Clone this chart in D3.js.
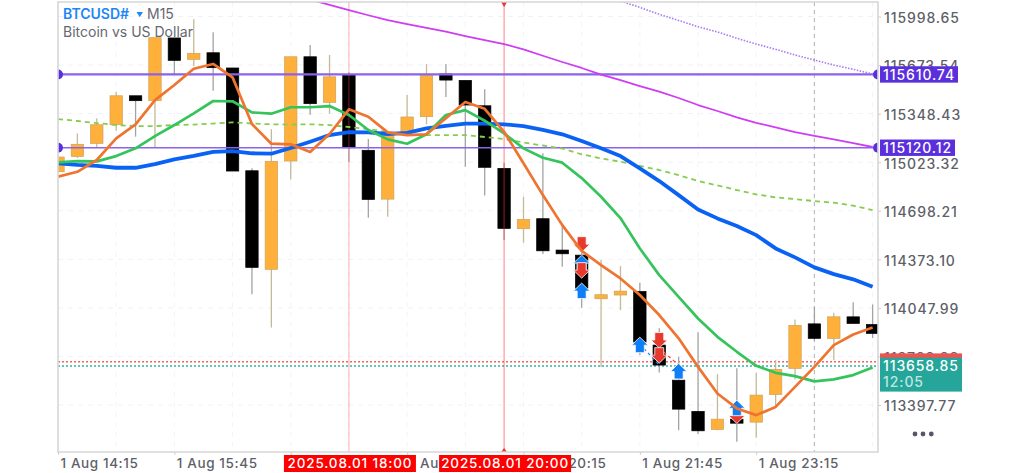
<!DOCTYPE html>
<html>
<head>
<meta charset="utf-8">
<script src="https://cdn.jsdelivr.net/npm/d3@7"></script>
<style>
html, body { margin: 0; padding: 0; background: #fff; overflow: hidden; }
text { font-family: Inter, Roboto, "Noto Sans", sans-serif; }
</style>
</head>
<body>
<svg id="chart" width="1024" height="473"></svg>
<script>
// BTCUSD# M15, one value per candle
const opens = [114959,115062,115149.5,115274,115468,115435,115855,115712,115756,115654,114966,114306,115031,115729,115424,115607,115103,114776,115219,115328,115614,115571,115401,114982,114578,114645,114435,114401,114109,114134,114158,113799,113564,113355,113234,113303,113283,113468,113643,113941,113844,113988,113937];
const highs = [115058,115216,115317,115495,115468,115857,115855,115980,115893,115654,114982,115243,115729,115808,115741,115625,115178,115219,115473,115680,115680,115571,115511,115020,114792,115083,114602,114435,114368,114328,114216,113911,113720,113884,113604,113643,113613,113698,113971,114055,114015,114085,114071];
const lows = [114959,115051,115120,115234,115194,115120,115607,115667,115502,114964,114140,113917,114908,115341,115348,115024,114651,114658,115205,115277,115460,114993,114801,114502,114484,114408,114323,114048,113653,114033,113732,113616,113229,113203,113229,113151,113178,113390,113569,113828,113698,113944,113846];
const closes = [115058,115143,115274,115468,115435,115857,115705,115752,115656,114964,114319,115029,115729,115415,115595,115120,114774,115219,115326,115612,115573,115406,114989,114580,114640,114430,114410,114180,114136,114160,113819,113665,113370,113225,113303,113276,113464,113636,113931,113844,113988,113944,113877];

// moving averages
const maFast = [114926,114959,115038,115183,115277,115439,115540,115649,115681,115591,115279,115147,115143,115091,115212,115377,115328,115223,115205,115210,115317,115426,115381,115227,115016,114803,114602,114430,114334,114245,114134,114000,113844,113653,113475,113375,113330,113385,113519,113653,113799,113870,113917];
const maMid = [115022,115031,115029,115064,115116,115198,115272,115350,115433,115431,115357,115348,115391,115391,115399,115339,115239,115176,115147,115210,115339,115372,115301,115216,115116,115053,115020,114917,114792,114649,114446,114267,114122,113977,113854,113754,113660,113613,113591,113556,113569,113598,113649];
const maSlow = [115016,115006,114999,114986,114986,115011,115042,115066,115093,115098,115083,115080,115118,115160,115205,115225,115223,115212,115220,115250,115267,115281,115281,115277,115265,115239,115210,115165,115116,115064,114982,114897,114803,114707,114647,114596,114535,114446,114386,114319,114274,114239,114189];
const maLong = [115312,115299,115285,115272,115265,115265,115272,115275,115282,115290,115282,115277,115275,115277,115272,115259,115245,115225,115208,115205,115205,115205,115192,115178,115155,115135,115115,115076,115049,115026,114999,114971,114937,114897,114868,114837,114808,114788,114776,114763,114752,114732,114703];
// these two only come into the window part way along
const maMagenta = [116146,116112,116077,116042,116007,115975,115948,115922,115897,115868,115841,115814,115779,115736,115694,115654,115610,115573,115533,115495,115453,115406,115366,115324,115287,115257,115225,115200,115176,115151,115125];
const maMagentaStart = 12;
const maDotted = [116149,116102,116060,116013,115972,115930,115895,115853,115814,115779,115741,115707,115674,115645,115614];
const maDottedStart = 28;

const priceTicks = [115998.65,115673.54,115348.43,115023.32,114698.21,114373.10,114047.99,113722.88,113397.77];
const timeTickIdx = [0,6,12,18,24,30,36];
const timeLabels = ["1 Aug 14:15","1 Aug 15:45","1 Aug 17:15","1 Aug 18:45","1 Aug 20:15","1 Aug 21:45","1 Aug 23:15"];

const levels = [115610.74, 115120.12];
const bid = 113658.85;
const ask = 113687;
const crosshairIdx = 39;
const markerIdx = [15, 23];
const markerLabels = ["2025.08.01 18:00", "2025.08.01 20:00"];

// [candle, price, direction]  order matters, later ones sit on top
const signals = [
    [27,114421,"down"],[27,114401,"up"],[27,114247,"down"],[27,114214,"up"],
    [30,113852,"up"],[31,113779,"down"],[31,113678,"down"],[32,113676,"up"],
    [35,113274,"down"],[35,113430,"up"]
];
const tradeLinks = [
    [30,113805,31,113665,"#2f7df6"],
    [31,113779,32,113665,"#ef4b3c"]
];

const svg = d3.select("#chart");
const pLeft = 58, pRight = 878, pTop = 2, pBottom = 452;
const candleW = 12.4;

const x = d3.scaleLinear().domain([0, 42]).range([58, 872.6]);
const y = d3.scaleLinear().domain([priceTicks[0], priceTicks[8]]).range([16.5, 405]);

svg.append("defs").append("clipPath").attr("id", "plot")
    .append("rect").attr("x", pLeft).attr("y", pTop).attr("width", pRight - pLeft).attr("height", pBottom - pTop);

const plot = svg.append("g").attr("clip-path", "url(#plot)");

// grid
plot.selectAll(".gy").data(priceTicks).join("line")
    .attr("x1", pLeft).attr("x2", pRight).attr("y1", d => y(d)).attr("y2", d => y(d))
    .attr("stroke", "#eef2f7").attr("stroke-dasharray", "5,5");
plot.selectAll(".gx").data(d3.range(3, 43, 3)).join("line")
    .attr("x1", d => x(d)).attr("x2", d => x(d)).attr("y1", pTop).attr("y2", pBottom)
    .attr("stroke", "#f1f4f8").attr("stroke-dasharray", "5,5");

plot.append("line").attr("x1", x(crosshairIdx)).attr("x2", x(crosshairIdx)).attr("y1", pTop).attr("y2", pBottom)
    .attr("stroke", "#bdbdbd").attr("stroke-width", 1.2).attr("stroke-dasharray", "4,4");

// bid / ask
[[ask, "#f4655f"], [bid, "#2fb3a6"]].forEach(d => {
    plot.append("line").attr("x1", pLeft).attr("x2", pRight).attr("y1", y(d[0])).attr("y2", y(d[0]))
        .attr("stroke", d[1]).attr("stroke-width", 1.4).attr("stroke-dasharray", "2,2");
});

// candles
const candles = plot.selectAll(".candle").data(opens.map((o, i) => i)).join("g");
candles.append("line")
    .attr("x1", i => x(i)).attr("x2", i => x(i))
    .attr("y1", i => y(highs[i])).attr("y2", i => y(lows[i]))
    .attr("stroke", i => closes[i] >= opens[i] ? "#c4b998" : "#a3a3a3")
    .attr("stroke-width", 1.3);
candles.append("rect")
    .attr("x", i => x(i) - candleW / 2).attr("width", candleW)
    .attr("y", i => y(Math.max(opens[i], closes[i])))
    .attr("height", i => Math.abs(y(opens[i]) - y(closes[i])))
    .attr("fill", i => closes[i] >= opens[i] ? "#ffb03b" : "#000")
    .attr("stroke", i => closes[i] >= opens[i] ? "#cfa257" : "#000")
    .attr("stroke-width", 0.7);

// date markers, on top of the candles
markerIdx.forEach((m, k) => {
    plot.append("line").attr("x1", x(m)).attr("x2", x(m)).attr("y1", pTop).attr("y2", pBottom)
        .attr("stroke", k ? "#ff3030" : "#ff5050").attr("stroke-opacity", k ? 0.6 : 0.45);
});
const triX = x(markerIdx[1]);
plot.append("path").attr("d", `M${triX - 3},${pTop} L${triX + 3},${pTop} L${triX},${pTop + 5} Z`).attr("fill", "#f03030");
plot.append("path").attr("d", `M${triX - 3},${pBottom} L${triX + 3},${pBottom} L${triX},${pBottom - 4} Z`).attr("fill", "#f03030");

// signal arrows
function arrow(dir) {
    const s = dir == "up" ? 1 : -1;
    return `M0,0 L8.2,${8 * s} L4.5,${8 * s} L4.5,${15.5 * s} L-4.5,${15.5 * s} L-4.5,${8 * s} L-8.2,${8 * s} Z`;
}
tradeLinks.forEach(t => {
    plot.append("line").attr("x1", x(t[0])).attr("y1", y(t[1])).attr("x2", x(t[2])).attr("y2", y(t[3]))
        .attr("stroke", t[4]).attr("stroke-width", 1.2).attr("stroke-dasharray", "3,3");
});
plot.selectAll(".sig").data(signals).join("path")
    .attr("d", d => arrow(d[2]))
    .attr("transform", d => `translate(${x(d[0])},${y(d[1])})`)
    .attr("fill", d => d[2] == "up" ? "#0f7ff5" : "#e8392c")
    .attr("stroke", "#fff").attr("stroke-width", 0.8);

// horizontal levels
levels.forEach((l, k) => {
    plot.append("line").attr("x1", pLeft).attr("x2", pRight).attr("y1", y(l)).attr("y2", y(l))
        .attr("stroke", "#8b63ea").attr("stroke-width", k ? 1.6 : 2.2);
    [pLeft, pRight].forEach(e => {
        plot.append("circle").attr("cx", e).attr("cy", y(l)).attr("r", 5).attr("fill", "#5a2fdc");
    });
});

// moving averages
const line = d3.line().x(d => x(d[0])).y(d => y(d[1]));
function pts(arr, start) { return arr.map((v, i) => [i + start, v]); }
function drawMa(arr, start, color, w, dash) {
    plot.append("path").attr("d", line(pts(arr, start))).attr("fill", "none")
        .attr("stroke", color).attr("stroke-width", w)
        .attr("stroke-linejoin", "round")
        .attr("stroke-dasharray", dash || null);
}
drawMa(maDotted, maDottedStart, "#a877f2", 1.6, "1.5,1.5");
drawMa(maMagenta, maMagentaStart, "#cf3df2", 1.8);
drawMa(maLong, 0, "#86cc4f", 1.8, "5,4");
drawMa(maSlow, 0, "#0a62f5", 3.8);
drawMa(maMid, 0, "#35c45c", 2.7);
drawMa(maFast, 0, "#ee7430", 2.7);

// frame
svg.append("path").attr("d", `M${pLeft},${pBottom} L${pLeft},${pTop} L${pRight},${pTop} L${pRight},${pBottom} Z`)
    .attr("fill", "none").attr("stroke", "#d6d6d6").attr("stroke-width", 1.6);

// axes
const yAxis = svg.append("g").attr("transform", `translate(${pRight},0)`)
    .call(d3.axisRight(y).tickValues(priceTicks).tickFormat(d => d.toFixed(2)).tickSize(3).tickPadding(3));
yAxis.select(".domain").remove();
yAxis.selectAll("line").attr("stroke", "#cfcfcf");
yAxis.selectAll("text").attr("fill", "#5e5f68").attr("font-size", 14).attr("font-weight", 500)
    .attr("letter-spacing", 0.9).attr("dy", "0.42em").style("font-family", "Inter");

const xAxis = svg.append("g").attr("transform", `translate(0,${pBottom})`)
    .call(d3.axisBottom(x).tickValues(timeTickIdx).tickFormat((d, i) => timeLabels[i]).tickSize(3).tickPadding(3));
xAxis.select(".domain").remove();
xAxis.selectAll("line").attr("stroke", "#cfcfcf");
xAxis.selectAll("text").attr("fill", "#5e5f68").attr("font-size", 13.5).attr("font-weight", 500)
    .attr("text-anchor", "start").attr("dx", 2).attr("letter-spacing", 0.6).style("font-family", "Inter");

// date marker labels
markerIdx.forEach((m, k) => {
    const cx = x(m) + 1;
    svg.append("rect").attr("x", cx - 66).attr("y", 455).attr("width", 132).attr("height", 17).attr("fill", "#ff0000");
    svg.append("text").attr("x", cx).attr("y", 468).attr("text-anchor", "middle")
        .attr("fill", "#fff").attr("font-size", 13.5).attr("font-weight", 500).attr("letter-spacing", 0.85)
        .text(markerLabels[k]);
});

// level labels
[78, 75].forEach((w, k) => {
    const py = y(levels[k]);
    svg.append("rect").attr("x", 880).attr("y", py - 8.2).attr("width", w).attr("height", 16.4).attr("fill", "#5a2fdc");
    svg.append("text").attr("x", 883).attr("y", py + 5.4).attr("fill", "#fff")
        .attr("font-size", 14).attr("font-weight", 500).attr("letter-spacing", 0.9)
        .text(levels[k].toFixed(2));
});

// ask strip behind bid box
svg.append("rect").attr("x", 880).attr("y", y(ask) - 8.4).attr("width", 82).attr("height", 6).attr("fill", "#ef5350");
svg.append("rect").attr("x", 880).attr("y", y(bid) - 8.4).attr("width", 82).attr("height", 34).attr("fill", "#26a69a");
svg.append("text").attr("x", 883).attr("y", y(bid) + 5.4).attr("fill", "#fff")
    .attr("font-size", 14).attr("font-weight", 500).attr("letter-spacing", 0.9).text(bid.toFixed(2));
svg.append("text").attr("x", 883).attr("y", y(bid) + 21).attr("fill", "#bfe6e1")
    .attr("font-size", 14).attr("font-weight", 500).attr("letter-spacing", 0.9).text("12:05");

// title
const title = svg.append("text").attr("x", 63).attr("y", 19).attr("font-size", 14);
title.append("tspan").attr("fill", "#1e86f5").attr("font-weight", 600).text("BTCUSD#");
svg.append("path").attr("d", "M136.5,12 L143,12 L139.7,17 Z").attr("fill", "#1e86f5");
svg.append("text").attr("x", 147).attr("y", 19).attr("font-size", 14).attr("fill", "#666870").text("M15");
svg.append("text").attr("x", 63).attr("y", 37).attr("font-size", 14).attr("fill", "#666870").text("Bitcoin vs US Dollar");

// menu dots
svg.selectAll(".dot").data([-8, 0, 8.3]).join("circle")
    .attr("cx", d => 923 + d).attr("cy", 434).attr("r", 2.4).attr("fill", "#55566a");
</script>
</body>
</html>
